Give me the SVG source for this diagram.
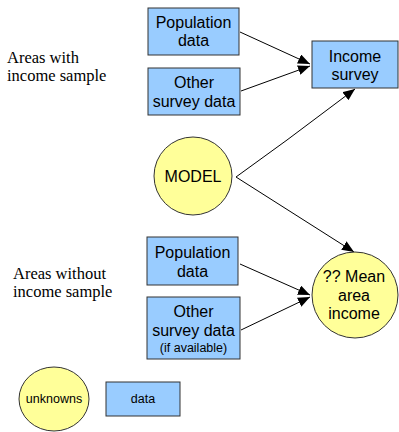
<svg xmlns="http://www.w3.org/2000/svg" width="399" height="432" viewBox="0 0 399 432">
<style>
.box{fill:#99ccff;stroke:#333;stroke-width:1}
.oval{fill:#ffff99;stroke:#333;stroke-width:1}
.t{font-family:"Liberation Sans",Arial,sans-serif;font-size:16px;fill:#000;text-anchor:middle}
.s{font-family:"Liberation Serif","Times New Roman",serif;font-size:16.5px;fill:#000}
.c{stroke:#000;stroke-width:1;fill:none;marker-end:url(#ah)}
</style>
<defs>
<marker id="ah" viewBox="0 0 12 10" refX="12" refY="5" markerWidth="12" markerHeight="10" markerUnits="userSpaceOnUse" orient="auto">
<path d="M0,0 L12,5 L0,10 Z" fill="#000"/>
</marker>
</defs>
<rect width="399" height="432" fill="#fff"/>
<text class="s" x="7" y="63">Areas with</text>
<text class="s" x="7" y="81">income sample</text>
<text class="s" x="13" y="279">Areas without</text>
<text class="s" x="13" y="297">income sample</text>
<g id="connectors">
<line class="c" x1="240" y1="32" x2="310" y2="64"/>
<line class="c" x1="241" y1="91" x2="310" y2="66"/>
<path class="c" d="M287,140 L355,89"/>
<path d="M236,177 L287,140" stroke="#000" fill="none"/>
<line class="c" x1="236" y1="177" x2="354" y2="252"/>
<line class="c" x1="240" y1="264" x2="310" y2="295"/>
<line class="c" x1="241" y1="330" x2="310" y2="297"/>
</g>
<g id="pop1"><rect class="box" x="148" y="8" width="91" height="47"/><text class="t" x="193.5" y="28">Population</text><text class="t" x="193.5" y="46">data</text></g>
<g id="other1"><rect class="box" x="148" y="68" width="92" height="47"/><text class="t" x="194" y="88">Other</text><text class="t" x="194" y="107">survey data</text></g>
<g id="income"><rect class="box" x="312" y="41" width="86" height="47"/><text class="t" x="355" y="62">Income</text><text class="t" x="355" y="80">survey</text></g>
<g id="model"><circle class="oval" cx="193" cy="176" r="39"/><text class="t" x="193" y="182">MODEL</text></g>
<g id="pop2"><rect class="box" x="147" y="237" width="91" height="48"/><text class="t" x="192.5" y="258">Population</text><text class="t" x="192.5" y="277">data</text></g>
<g id="other2"><rect class="box" x="147" y="297" width="93" height="62"/><text class="t" x="193.5" y="317">Other</text><text class="t" x="193.5" y="336">survey data</text><text class="t" x="193.5" y="352" style="font-size:12.5px">(if available)</text></g>
<g id="mean"><circle class="oval" cx="355" cy="295" r="43"/><text class="t" x="354" y="282">?? Mean</text><text class="t" x="354" y="301">area</text><text class="t" x="354" y="319">income</text></g>
<g id="unknowns"><ellipse class="oval" cx="54" cy="399" rx="35" ry="32"/><text class="t" x="54" y="403" style="font-size:12.5px">unknowns</text></g>
<g id="data"><rect class="box" x="106" y="382" width="74" height="34"/><text class="t" x="143" y="403" style="font-size:12.5px">data</text></g>
</svg>
